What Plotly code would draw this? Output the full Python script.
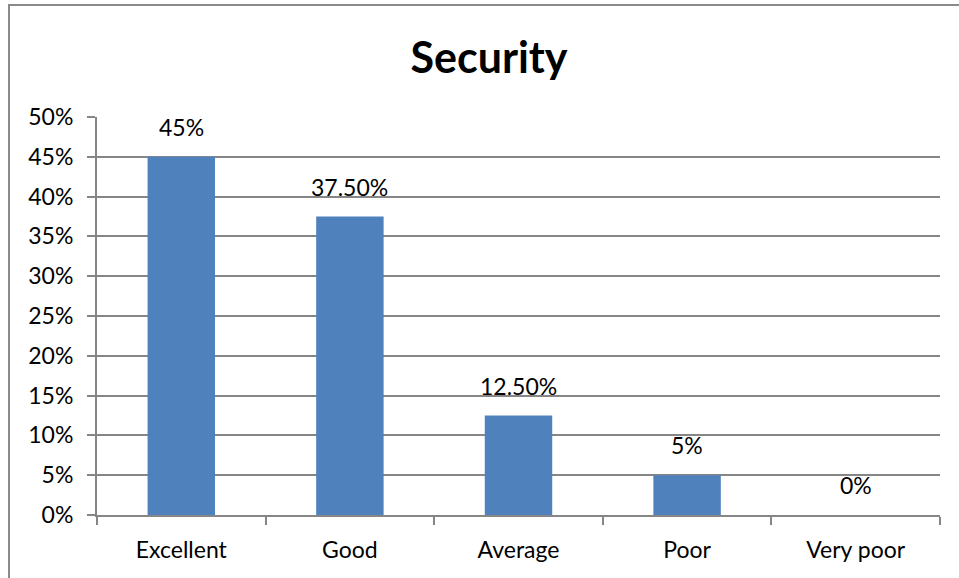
import plotly.graph_objects as go

categories = ["Excellent", "Good", "Average", "Poor", "Very poor"]
values = [45, 37.5, 12.5, 5, 0]
value_labels = ["45%", "37.50%", "12.50%", "5%", "0%"]

W, H = 959, 578
L, R, T, B = 97, 19, 117, 63
plot_w = W - L - R
plot_h = H - T - B

grid = "#868686"
font_family = "Lato, 'Open Sans', sans-serif"

yvals = [v / 100 for v in values]

fig = go.Figure(
    go.Bar(
        x=categories,
        y=yvals,
        width=0.4,
        marker=dict(color="#4F81BD", line=dict(width=0)),
        hoverinfo="skip",
    )
)

# value labels sitting above each bar
for cat, yv, lab in zip(categories, yvals, value_labels):
    fig.add_annotation(
        x=cat, y=yv, text=lab, showarrow=False,
        yanchor="bottom", yshift=14,
        font=dict(size=23, color="#000000", family=font_family),
    )

# outer chart frame (left and top edges fall inside the canvas)
fx0 = (9 - L) / plot_w
fy1 = (H - B - 5) / plot_h
fig.add_shape(
    type="rect", xref="paper", yref="paper",
    x0=fx0, x1=1.2, y0=-0.5, y1=fy1,
    line=dict(color="#8a8a8a", width=2), fillcolor="rgba(0,0,0,0)", layer="below",
)

fig.update_layout(
    width=W, height=H,
    margin=dict(l=L, r=R, t=T, b=B, pad=0),
    paper_bgcolor="white", plot_bgcolor="white",
    showlegend=False,
    title=dict(
        text="<b>Security</b>", x=(489 - L) / plot_w, xref="paper",
        xanchor="center", y=1 - 58 / H, yanchor="middle",
        font=dict(size=43, color="#000000", family=font_family),
    ),
    font=dict(family=font_family, color="#000000"),
    xaxis=dict(
        type="category", tickson="boundaries",
        ticks="outside", ticklen=8, tickcolor=grid, tickwidth=2,
        showline=True, linecolor=grid, linewidth=2,
        showgrid=False,
        tickfont=dict(size=23, family=font_family, color="#000000"),
        ticklabelstandoff=13,
    ),
    yaxis=dict(
        range=[0, 0.5], dtick=0.05, tickformat=".0%",
        ticks="outside", ticklen=8, tickcolor=grid, tickwidth=2,
        showline=True, linecolor=grid, linewidth=2,
        showgrid=True, gridcolor=grid, gridwidth=2,
        zeroline=False,
        tickfont=dict(size=23, family=font_family, color="#000000"),
        ticklabelstandoff=9,
    ),
)

fig.write_html("out.html")
